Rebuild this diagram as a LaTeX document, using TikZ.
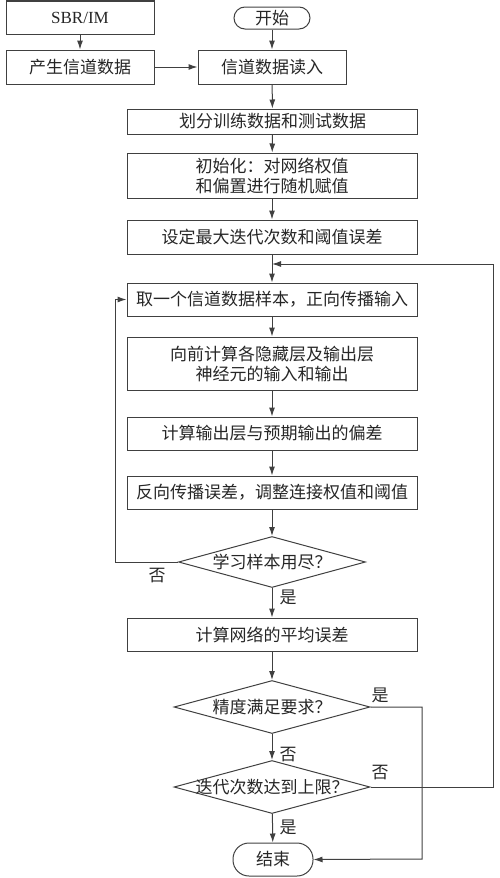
\documentclass[tikz,border=0pt]{standalone}
\usepackage{fontspec}
\setmainfont{Liberation Serif}
\newfontfamily\cjk{Noto Sans CJK SC}
\usepackage{tikz}
\usetikzlibrary{shapes.geometric, arrows.meta}

\begin{document}
\begin{tikzpicture}[x=1pt, y=-1pt,
                font=\fontsize{17}{20}\selectfont\cjk,
                every node/.style={text=black!85},
                box/.style={draw=black!75, line width=1pt, rectangle, inner sep=0pt,
                    minimum width=290pt, minimum height=33pt, align=center},
                term/.style={draw=black!75, line width=1pt, rectangle, inner sep=0pt},
                decision/.style={draw=black!75, line width=1pt, diamond, inner sep=0pt},
                arrow/.style={draw=black!75, line width=1pt, -{Latex[length=9pt,width=6pt]}}
            ]
                \useasboundingbox (0,0) rectangle (500,878);
                % inputs
                \node[box, minimum width=148pt, font=\fontsize{17}{20}\selectfont\rmfamily] (sbr) at (80,17.5) {SBR/IM};
                \node[box, minimum width=148pt, minimum height=34pt] (gen) at (80,67) {产生信道数据};
                \node[term, minimum width=76pt, minimum height=22pt, rounded corners=11pt] (start) at (272,18) {开始};
                \node[box, minimum width=148pt, minimum height=34pt] (read) at (272,67) {信道数据读入};
                % training steps
                \node[box, minimum height=25pt] (split) at (272.5,121.5) {划分训练数据和测试数据};
                \node[box, minimum height=45pt] (init) at (272,175.5) {初始化：对网络权值\\和偏置进行随机赋值};
                \node[box, minimum height=34pt] (limit) at (272,237) {设定最大迭代次数和阈值误差};
                \node[box] (sample) at (272,299.5) {取一个信道数据样本，正向传播输入};
                \node[box, minimum height=53pt] (fwd) at (272,363.5) {向前计算各隐藏层及输出层\\神经元的输入和输出};
                \node[box] (dev) at (272,433.5) {计算输出层与预期输出的偏差};
                \node[box] (back) at (272,492.5) {反向传播误差，调整连接权值和阈值};
                \node[decision, minimum width=187pt, minimum height=51pt, label=center:{学习样本用尽？}] (used) at (272,562) {};
                \node[box] (avg) at (272,634.5) {计算网络的平均误差};
                \node[decision, minimum width=196pt, minimum height=53pt, label=center:{精度满足要求？}] (acc) at (272,707) {};
                \node[decision, minimum width=196pt, minimum height=53pt, label=center:{迭代次数达到上限？}] (iter) at (272,787) {};
                \node[term, minimum width=80pt, minimum height=33pt, rounded corners=16pt] (stop) at (273,859.5) {结束};
                % branch labels
                \node (usedno) at (157,576) {否};
                \node (usedyes) at (288,597) {是};
                \node (accyes) at (380,695) {是};
                \node (accno) at (288,755) {否};
                \node (iterno) at (380,773) {否};
                \node (iteryes) at (288,827) {是};
                % connectors
                \coordinate (merge) at (272,264);
                \coordinate (backR) at (493,264);
                \coordinate (backL) at (115,562);
                \coordinate (okR) at (422,859);
                \draw[arrow] (sbr) -- (gen);
                \draw[arrow] (gen) -- (read);
                \draw[arrow] (start) -- (read);
                \draw[arrow] (read) -- (split);
                \draw[arrow] (split) -- (init);
                \draw[arrow] (init) -- (limit);
                \draw[arrow] (limit) -- (sample);
                \draw[arrow] (sample) -- (fwd);
                \draw[arrow] (fwd) -- (dev);
                \draw[arrow] (dev) -- (back);
                \draw[arrow] (back) -- (used);
                \draw[arrow] (used.west) -- (backL) |- (sample.west);
                \draw[arrow] (used) -- (avg);
                \draw[arrow] (avg) -- (acc);
                \draw[arrow] (acc) -- (iter);
                \draw[arrow] (iter) -- (stop);
                \draw[arrow] (acc.east) -| (okR) -- (stop.east);
                \draw[arrow] (iter.east) -| (backR) -- (merge);
            \end{tikzpicture}
\end{document}
